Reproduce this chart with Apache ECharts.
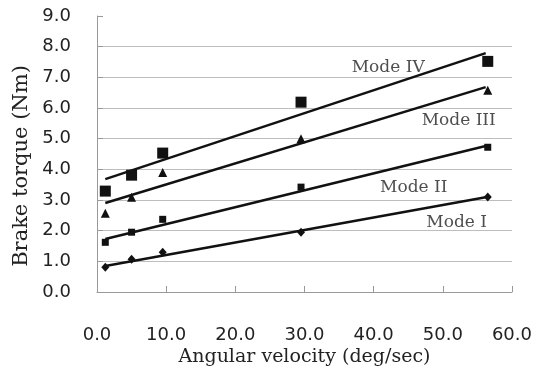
<!DOCTYPE html>
<html>
<head>
<meta charset="utf-8">
<script src="https://cdn.jsdelivr.net/npm/echarts@6/dist/echarts.min.js"></script>
<style>
  html, body { margin: 0; padding: 0; background: #fff; }
  #chart { width: 535px; height: 372px; }
</style>
</head>
<body>
<div id="chart"></div>
<script>
// angular velocity of the test points (deg/sec)
var velocity = [1.2, 5.0, 9.5, 29.5, 56.5]
// brake torque (Nm) per mode
var modeI = [0.81, 1.07, 1.30, 1.95, 3.10]
var modeII = [1.62, 1.95, 2.37, 3.42, 4.72]
var modeIII = [2.57, 3.09, 3.90, 5.00, 6.58]
var modeIV = [3.29, 3.81, 4.53, 6.19, 7.52]
// trend lines: [x, y] at both ends
var fitX = [1.2, 56.2]
var fitI = [0.85, 3.09]
var fitII = [1.73, 4.76]
var fitIII = [2.90, 6.68]
var fitIV = [3.68, 7.79]
var modeNames = ['Mode I', 'Mode II', 'Mode III', 'Mode IV']
// where the mode names sit (data coords)
var nameSpots = [[52.0, 2.25], [45.8, 3.42], [52.3, 5.58], [42.1, 7.33]]

var chart = echarts.init(document.getElementById('chart'))

function pts(ys) {
  return velocity.map(function (x, i) { return [x, ys[i]] })
}
function fit(ys) {
  return [[fitX[0], ys[0]], [fitX[1], ys[1]]]
}

var markers = [
  { ys: modeI, symbol: 'diamond', size: [8, 9] },
  { ys: modeII, symbol: 'rect', size: 7 },
  { ys: modeIII, symbol: 'triangle', size: 9 },
  { ys: modeIV, symbol: 'rect', size: 11 }
]
var fits = [fitI, fitII, fitIII, fitIV]

var seriesList = []
fits.forEach(function (f) {
  seriesList.push({
    type: 'line',
    data: fit(f),
    symbol: 'none',
    silent: true,
    lineStyle: { color: '#111', width: 2.5 },
    z: 2
  })
})
markers.forEach(function (m) {
  seriesList.push({
    type: 'scatter',
    data: pts(m.ys),
    symbol: m.symbol,
    symbolSize: m.size,
    itemStyle: { color: '#111', opacity: 1 },
    z: 3
  })
})
seriesList.push({
  type: 'scatter',
  symbolSize: 0,
  data: nameSpots.map(function (p, i) { return { value: p, name: modeNames[i] } }),
  label: {
    show: true,
    position: 'inside',
    formatter: '{b}',
    fontFamily: 'DejaVu Serif',
    fontSize: 17,
    color: '#222'
  },
  z: 4
})

chart.setOption({
  animation: false,
  grid: { left: 97, right: 21, top: 16, bottom: 80, containLabel: false },
  xAxis: {
    type: 'value',
    min: 0,
    max: 60,
    interval: 10,
    name: 'Angular velocity (deg/sec)',
    nameLocation: 'middle',
    nameGap: 56,
    nameMoveOverlap: false,
    nameTextStyle: { fontFamily: 'DejaVu Serif', fontSize: 19, color: '#222' },
    axisLine: { show: true, lineStyle: { color: '#999', width: 1 } },
    axisTick: { show: true, inside: true, length: 6, lineStyle: { color: '#999' } },
    axisLabel: {
      margin: 24,
      padding: [10, 0, 0, 0],
      fontFamily: 'DejaVu Sans',
      fontSize: 18,
      color: '#222',
      formatter: function (v) { return v.toFixed(1) }
    },
    splitLine: { show: false }
  },
  yAxis: {
    type: 'value',
    min: 0,
    max: 9,
    interval: 1,
    name: 'Brake torque (Nm)',
    nameLocation: 'middle',
    nameGap: 65,
    nameMoveOverlap: false,
    nameTextStyle: { fontFamily: 'DejaVu Serif', fontSize: 21, color: '#222', padding: [0, 24, 0, 0] },
    axisLine: { show: true, lineStyle: { color: '#999', width: 1 } },
    axisTick: { show: true, inside: true, length: 6, lineStyle: { color: '#999' } },
    axisLabel: {
      margin: 26,
      fontFamily: 'DejaVu Sans',
      fontSize: 18,
      color: '#222',
      formatter: function (v) { return v.toFixed(1) }
    },
    splitLine: {
      show: true,
      showMaxLine: false,
      lineStyle: { color: '#bdbdbd', width: 1 }
    }
  },
  series: seriesList
})
</script>
</body>
</html>
